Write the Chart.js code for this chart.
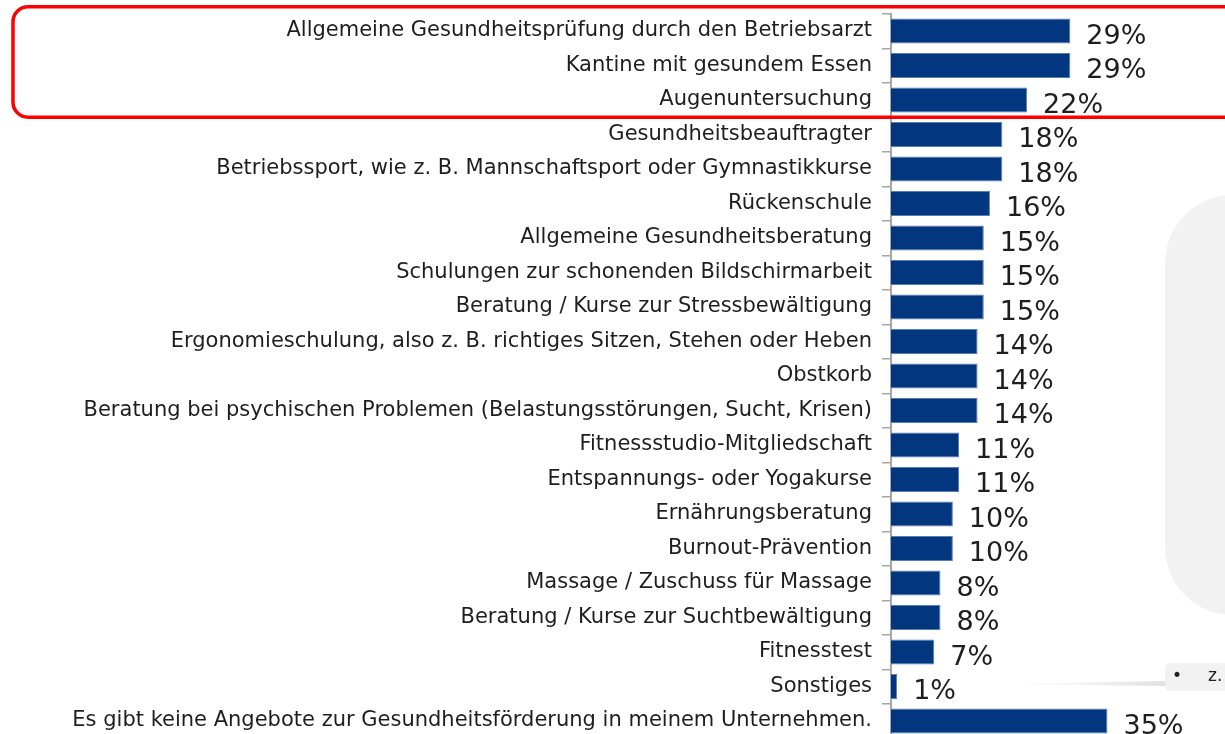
<!DOCTYPE html>
<html>
<head>
<meta charset="utf-8">
<script src="https://cdn.jsdelivr.net/npm/chart.js@4/dist/chart.umd.min.js"></script>
<style>
  html, body { margin: 0; padding: 0; background: #fff; overflow: hidden; }
  #wrap { position: relative; width: 1225px; height: 740px; }
</style>
</head>
<body>
<div id="wrap"><canvas id="chart"></canvas></div>
<script>
const categories = [
  "Allgemeine Gesundheitsprüfung durch den Betriebsarzt",
  "Kantine mit gesundem Essen",
  "Augenuntersuchung",
  "Gesundheitsbeauftragter",
  "Betriebssport, wie z. B. Mannschaftsport oder Gymnastikkurse",
  "Rückenschule",
  "Allgemeine Gesundheitsberatung",
  "Schulungen zur schonenden Bildschirmarbeit",
  "Beratung / Kurse zur Stressbewältigung",
  "Ergonomieschulung, also z. B. richtiges Sitzen, Stehen oder Heben",
  "Obstkorb",
  "Beratung bei psychischen Problemen (Belastungsstörungen, Sucht, Krisen)",
  "Fitnessstudio-Mitgliedschaft",
  "Entspannungs- oder Yogakurse",
  "Ernährungsberatung",
  "Burnout-Prävention",
  "Massage / Zuschuss für Massage",
  "Beratung / Kurse zur Suchtbewältigung",
  "Fitnesstest",
  "Sonstiges",
  "Es gibt keine Angebote zur Gesundheitsförderung in meinem Unternehmen."
];

const shares = [29, 29, 22, 18, 18, 16, 15, 15, 15, 14, 14, 14, 11, 11, 10, 10, 8, 8, 7, 1, 35];

const highlightRows = [0, 2]; // first and last row inside the red frame

const FONT = "'DejaVu Sans', Verdana, sans-serif";

function roundRect(ctx, x, y, w, h, r) {
  ctx.beginPath();
  ctx.moveTo(x + r, y);
  ctx.lineTo(x + w - r, y);
  ctx.arcTo(x + w, y, x + w, y + r, r);
  ctx.lineTo(x + w, y + h - r);
  ctx.arcTo(x + w, y + h, x + w - r, y + h, r);
  ctx.lineTo(x + r, y + h);
  ctx.arcTo(x, y + h, x, y + h - r, r);
  ctx.lineTo(x, y + r);
  ctx.arcTo(x, y, x + r, y, r);
  ctx.closePath();
}

// grey shapes sitting behind the chart on the right
const backdrop = {
  id: "backdrop",
  beforeDraw(chart) {
    const ctx = chart.ctx;
    ctx.save();
    ctx.fillStyle = "#f2f2f2";
    roundRect(ctx, 1165, 195, 200, 420, 68);
    ctx.fill();
    roundRect(ctx, 1165, 663, 120, 28, 5);
    ctx.fill();
    // faint tapering connector
    const g = ctx.createLinearGradient(995, 0, 1165, 0);
    g.addColorStop(0, "rgba(235,235,235,0)");
    g.addColorStop(1, "rgba(225,225,225,1)");
    ctx.fillStyle = g;
    ctx.beginPath();
    ctx.moveTo(995, 684);
    ctx.lineTo(1165, 681);
    ctx.lineTo(1165, 686);
    ctx.closePath();
    ctx.fill();
    ctx.fillStyle = "#222";
    ctx.font = "17px " + FONT;
    ctx.textBaseline = "middle";
    ctx.fillText("•", 1172, 677);
    ctx.fillText("z.", 1208, 677);
    ctx.restore();
  },
};

// percent labels to the right of each bar
const valueLabels = {
  id: "valueLabels",
  afterDatasetsDraw(chart) {
    const ctx = chart.ctx;
    const meta = chart.getDatasetMeta(0);
    ctx.save();
    ctx.fillStyle = "#1e1e1e";
    ctx.font = "27px " + FONT;
    ctx.textAlign = "left";
    ctx.textBaseline = "alphabetic";
    meta.data.forEach((bar, i) => {
      ctx.fillText(shares[i] + "%", bar.x + 16, bar.y + 12.5);
    });
    ctx.restore();
  },
};

// red frame around the top rows
const frame = {
  id: "frame",
  afterDraw(chart) {
    const y = chart.scales.y;
    const half = (y.getPixelForValue(1) - y.getPixelForValue(0)) / 2;
    const top = y.getPixelForValue(highlightRows[0]) - half - 7;
    const bottom = y.getPixelForValue(highlightRows[1]) + half;
    const ctx = chart.ctx;
    ctx.save();
    ctx.strokeStyle = "#ff0000";
    ctx.lineWidth = 3.5;
    roundRect(ctx, 13, top, 1260, bottom - top, 15);
    ctx.stroke();
    ctx.restore();
  },
};

new Chart(document.getElementById("chart"), {
  type: "bar",
  data: {
    labels: categories,
    datasets: [{
      data: shares,
      backgroundColor: "#02367f",
      borderColor: "#5a7db3",
      borderWidth: 1,
      barPercentage: 0.725,
      categoryPercentage: 1,
    }],
  },
  options: {
    indexAxis: "y",
    responsive: true,
    maintainAspectRatio: false,
    animation: false,
    layout: { padding: { top: 13.75, bottom: 1.75, left: 0, right: 0 } },
    plugins: {
      legend: { display: false },
      tooltip: { enabled: false },
    },
    scales: {
      x: {
        display: false,
        min: 0,
        max: 54,
      },
      y: {
        afterFit(scale) {
          scale.width = 891;
          scale.paddingTop = 0;
          scale.paddingBottom = 0;
        },
        grid: {
          offset: true,
          drawOnChartArea: false,
          drawTicks: true,
          tickLength: 9,
          color: "#a6a6a6",
          lineWidth: 1.5,
        },
        border: { color: "#a6a6a6", width: 2 },
        ticks: {
          autoSkip: false,
          padding: 10,
          color: "#1e1e1e",
          font: { family: FONT, size: 21 },
        },
      },
    },
  },
  plugins: [backdrop, valueLabels, frame],
});
</script>
</body>
</html>
